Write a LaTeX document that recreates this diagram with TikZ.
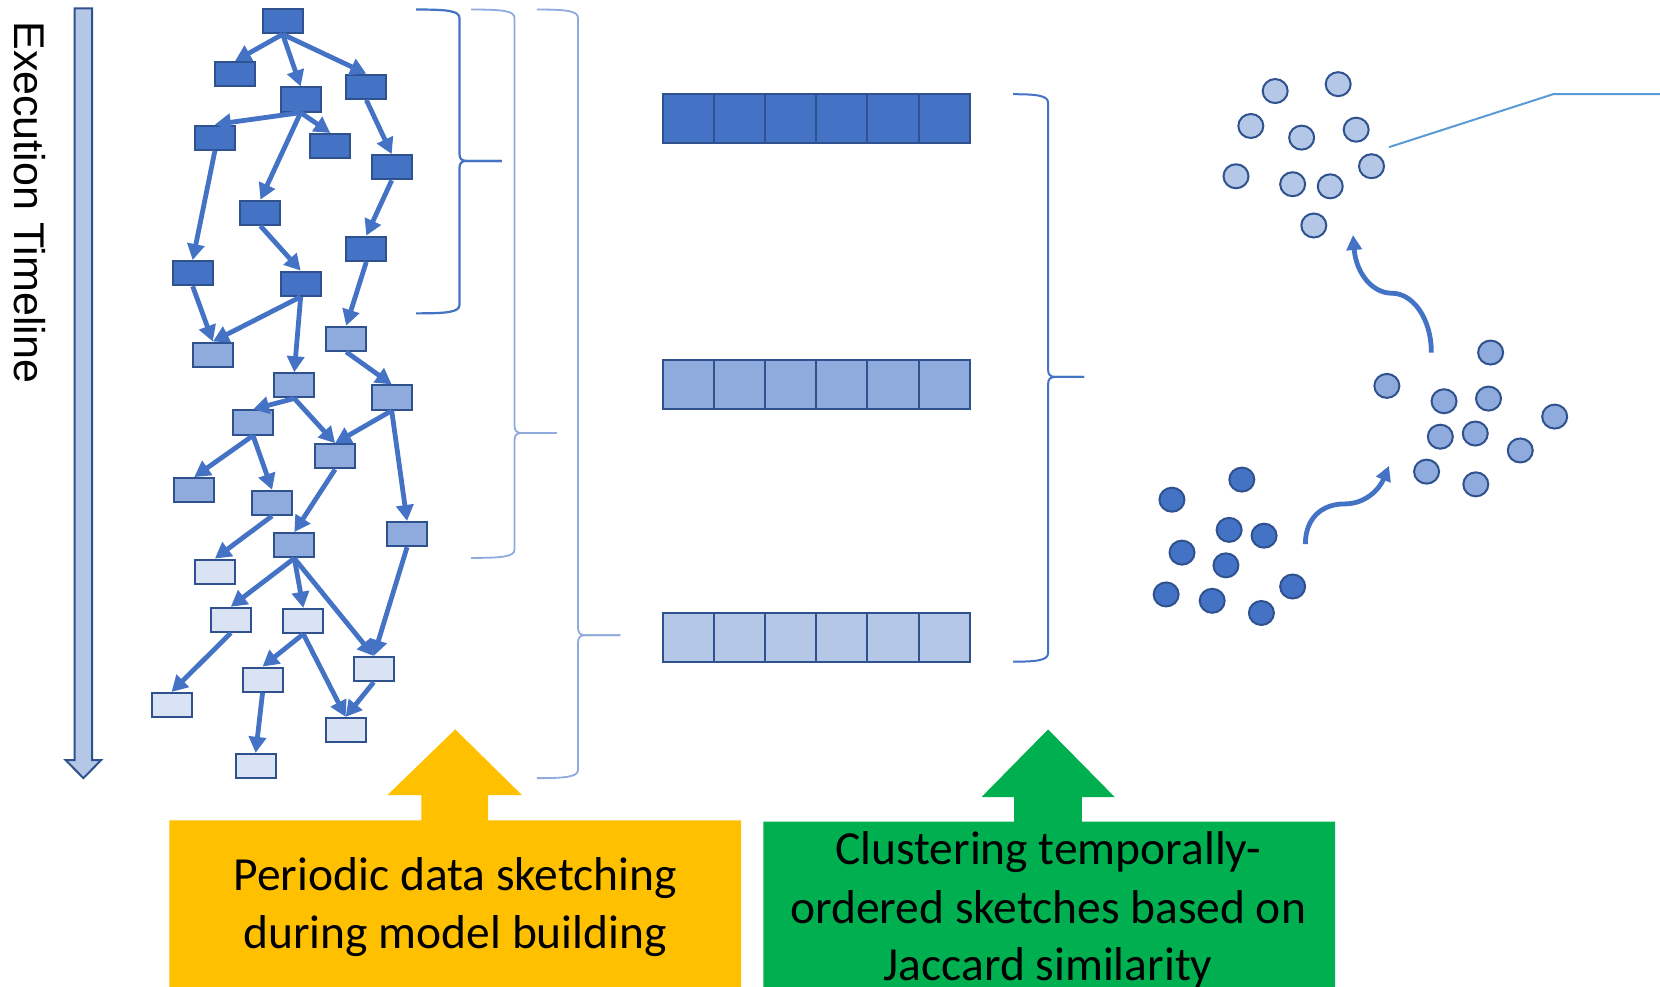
\documentclass[tikz,border=0pt]{standalone}
\usepackage{fontspec}
\setmainfont{Carlito}
\newfontfamily\arialf{Liberation Sans}
\usetikzlibrary{arrows.meta,shapes.geometric}
\definecolor{dk}{HTML}{4472C4}
\definecolor{bd}{HTML}{2F528F}
\definecolor{md}{HTML}{8FAADC}
\definecolor{lt}{HTML}{B4C7E7}
\definecolor{vl}{HTML}{DAE3F3}
\definecolor{cl}{HTML}{5B9BD5}
\definecolor{yl}{HTML}{FFC000}
\definecolor{gr}{HTML}{00B050}
\newcommand{\mybrace}[7]{%
 \draw[#7] (#1,#4) .. controls (#2-12,#4) and (#2,#4+1) .. (#2,#4+8) -- (#2,#5-7)
   .. controls (#2,#5-2) and (#2+2,#5) .. (#2+7,#5) -- (#3,#5);
 \draw[#7] (#3,#5) -- (#2+7,#5) .. controls (#2+2,#5) and (#2,#5+2) .. (#2,#5+7)
   -- (#2,#6-8) .. controls (#2,#6-1) and (#2-12,#6) .. (#1,#6);
}
\begin{document}
\begin{tikzpicture}[x=1.0587pt,y=-1.0587pt,
 gnode/.style={rectangle,draw=bd,line width=2pt,minimum width=40pt,minimum height=24.2pt,inner sep=0pt},
 gdk/.style={gnode,fill=dk}, gmd/.style={gnode,fill=md}, glt/.style={gnode,fill=vl},
 edge/.style={draw=dk,line width=4.8pt,-{Triangle[length=16pt,width=17pt]}},
 cell/.style={rectangle,draw=bd,line width=2pt,minimum width=51.17pt,minimum height=49pt,inner sep=0pt},
 dot/.style={ellipse,draw=bd,line width=2pt,minimum width=25pt,minimum height=24pt,inner sep=0pt},
 carrow/.style={draw=dk,line width=4.8pt,-{Triangle[length=15pt,width=15pt]}},
 boxtext/.style={anchor=base,inner sep=0pt,font=\fontsize{47.5}{57.8}\selectfont}]
\clip (0,0) rectangle (1568,932);
\fill[white] (0,0) rectangle (1568,932);

% timeline
\draw[fill=lt,draw=bd,line width=2pt,line join=miter] (70.5,8) -- (87,8) -- (87,718) -- (95.5,718) -- (78.8,735) -- (62,718) -- (70.5,718) -- cycle;
\node[rotate=-90,anchor=base west,inner sep=0pt,font=\arialf\fontsize{43}{50}\selectfont] (tl) at (14,20) {Execution Timeline};

% graph nodes
\node[gdk] (N1) at (267,20) {};
\node[gdk] (N2) at (222,70) {};
\node[gdk] (N3) at (284,94) {};
\node[gdk] (N4) at (346,82) {};
\node[gdk] (N5) at (203,130) {};
\node[gdk] (N6) at (312,138) {};
\node[gdk] (N7) at (370,158) {};
\node[gdk] (N8) at (246,201) {};
\node[gdk] (N9) at (346,235) {};
\node[gdk] (N10) at (182,258) {};
\node[gdk] (N11) at (284,268) {};
\node[gmd] (M1) at (201,335) {};
\node[gmd] (M2) at (327,320) {};
\node[gmd] (M3) at (278,364) {};
\node[gmd] (M4) at (370,375.5) {};
\node[gmd] (M5) at (239,399) {};
\node[gmd] (M6) at (316.5,431) {};
\node[gmd] (M7) at (183.5,463) {};
\node[gmd] (M8) at (257,475) {};
\node[gmd] (M9) at (278,515) {};
\node[gmd] (M10) at (384.5,504.5) {};
\node[glt] (L1) at (203,540) {};
\node[glt] (L2) at (218,585.5) {};
\node[glt] (L3) at (286.5,586.5) {};
\node[glt] (L4) at (353,632) {};
\node[glt] (L5) at (248,642) {};
\node[glt] (L6) at (162,666) {};
\node[glt] (L7) at (326.5,689.5) {};
\node[glt] (L8) at (241.5,723.5) {};

\foreach \a/\b in {N1/N2,N1/N3,N1/N4,N3/N5,N3/N6,N3/N8,N4/N7,N7/N9,N5/N10,N8/N11,
  N10/M1,N11/M1,N11/M3,N9/M2,M2/M4,M3/M5,M3/M6,M4/M6,M4/M10,M5/M7,M5/M8,M8/L1,M6/M9,
  M9/L2,M9/L3,M9/L4,M10/L4,L2/L6,L3/L5,L3/L7,L4/L7,L5/L8}
  \draw[edge] (\a.south) -- (\b.north);

% braces
\mybrace{393}{434}{474}{9}{152}{296}{draw=dk,line width=2.2pt}
\mybrace{445}{486}{526}{9}{409}{527}{draw=md,line width=1.8pt}
\mybrace{507}{546}{586}{9}{600}{735}{draw=md,line width=1.8pt}
\mybrace{957}{990}{1024}{89}{356}{625}{draw=dk,line width=2pt}

% sketches
\foreach \r/\y/\c in {1/112/dk,2/363/md,3/602/lt}
  \foreach \i in {1,...,6}
    \node[cell,fill=\c] (s\r\i) at ({626+48.333*(\i-0.5)},\y) {};

% clusters
\foreach \x/\y [count=\k] in {1107/472,1173/453,1161/500.5,1194/506,1116.5/522,1158/534,1101.5/561.5,1145/567.5,1191.5/579,1221/554}
  \node[dot,fill=dk] (a\k) at (\x,\y) {};
\foreach \x/\y [count=\k] in {1408/333,1310/364.5,1364/379,1406/376.5,1360.5/412.5,1393.5/409.5,1468.5/393.5,1436/425.5,1347.5/445.5,1394/457.5}
  \node[dot,fill=md] (b\k) at (\x,\y) {};
\foreach \x/\y [count=\k] in {1204.5/86,1264/79.5,1181.5/119,1229.5/130,1281/122.5,1167.5/166.5,1221/174,1256.5/176,1295.5/157,1241/213}
  \node[dot,fill=lt] (c\k) at (\x,\y) {};

\coordinate (p1) at (1233,514);
\coordinate (p2) at (1312,440);
\coordinate (q1) at (1352,333);
\coordinate (q2) at (1278,222);
\draw[carrow] (p1) .. controls (1233,490) and (1248,476) .. (1270,476) .. controls (1290,476) and (1303,462) .. (p2);
\draw[carrow] (q1) .. controls (1352,300) and (1334,277) .. (1315,277) .. controls (1296,277) and (1281,258) .. (q2);

% callout line
\coordinate (co1) at (1312,139);
\coordinate (co2) at (1467,89);
\coordinate (co3) at (1580,89);
\draw[cl,line width=2pt] (co1) -- (co2) -- (co3);

% big arrows
\fill[yl] (160,945) -- (160,775) -- (398,775) -- (398,751) -- (366,751) -- (430,689) -- (493,751) -- (461,751) -- (461,775) -- (700,775) -- (700,945) -- cycle;
\fill[gr] (721,945) -- (721,776) -- (958,776) -- (958,753) -- (927,753) -- (990,689) -- (1053,753) -- (1022,753) -- (1022,776) -- (1261,776) -- (1261,945) -- cycle;
\node[boxtext] (y1) at (430,841) {Periodic data sketching};
\node[boxtext] (y2) at (430,896) {during model building};
\node[boxtext] (g1) at (990,817) {Clustering temporally-};
\node[boxtext] (g2) at (990,872) {ordered sketches based on};
\node[boxtext] (g3) at (990,926) {Jaccard similarity};
\end{tikzpicture}
\end{document}
